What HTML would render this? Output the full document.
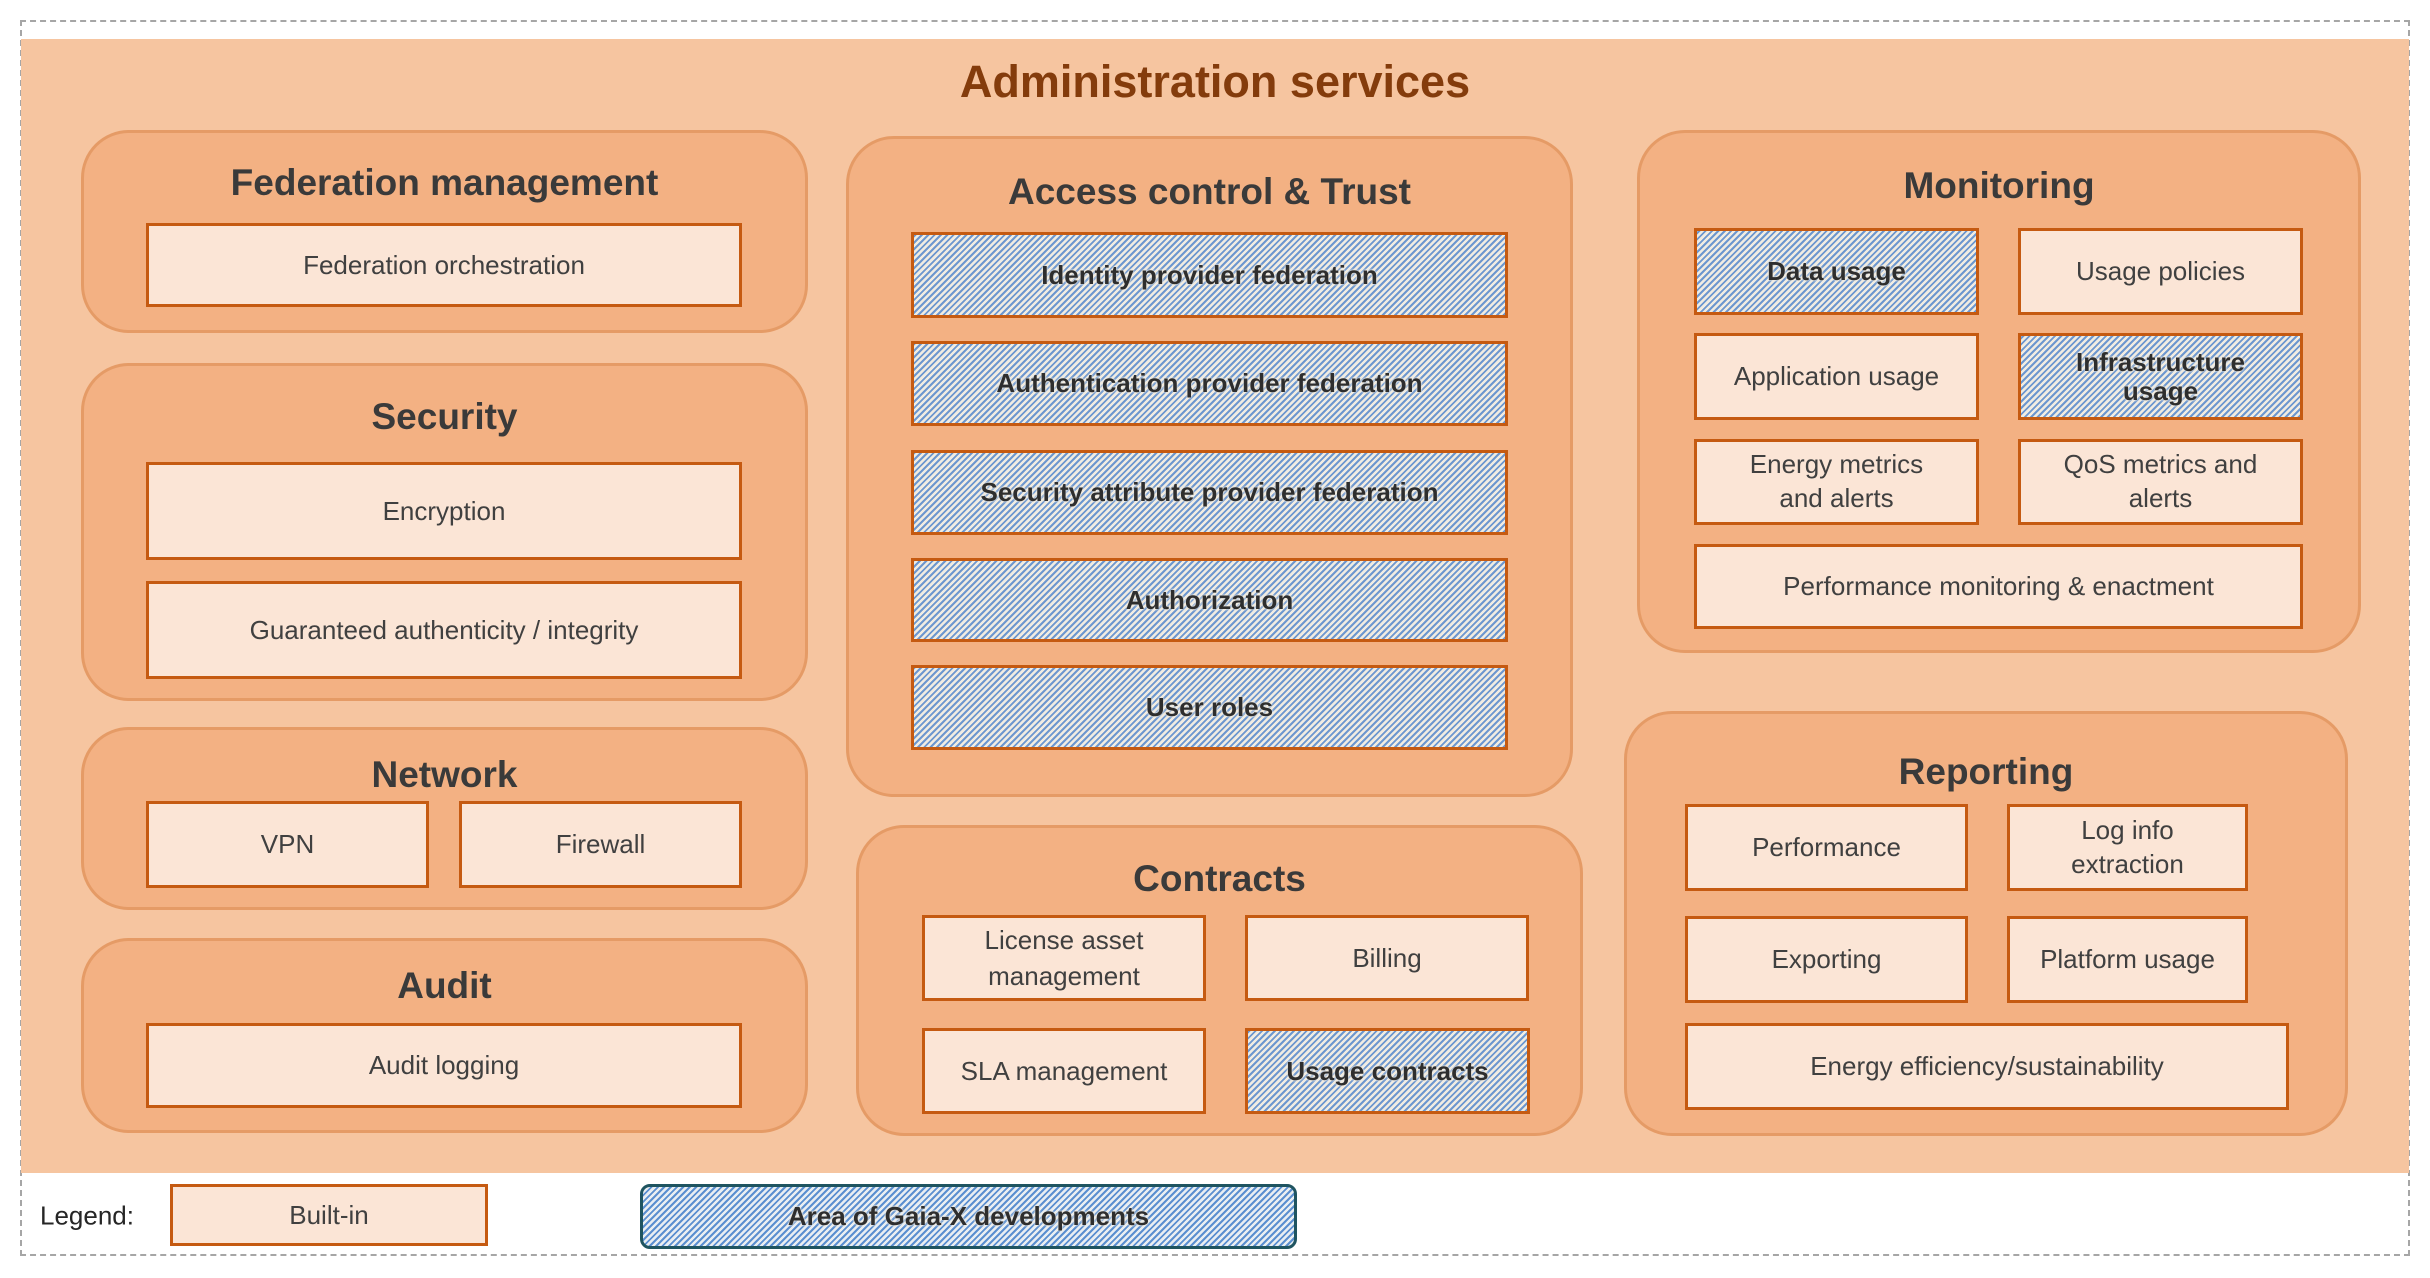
<!DOCTYPE html>
<html><head><meta charset="utf-8"><style>
*{margin:0;padding:0;box-sizing:border-box}
body{width:2430px;height:1278px;background:#fff;position:relative;overflow:hidden;font-family:"Liberation Sans",Arial,sans-serif;color:#404040}
.a{position:absolute}
.outer{left:20px;top:20px;width:2390px;height:1236px;border:2px dashed #a6a6a6}
.bg{left:21px;top:39px;width:2388px;height:1134px;background:#f6c5a0}
.g{position:absolute;background:#f3b183;border:3px solid #e59b66;border-radius:48px}
.t{position:absolute;left:0;right:0;text-align:center;font-weight:bold;font-size:37px;color:#3a3a3a;transform:translateY(-50%)}
.b{position:absolute;background:#fbe5d6;border:3px solid #c55a11;display:flex;align-items:center;justify-content:center;text-align:center;font-size:26px;line-height:1.4;color:#404040}
.h{background:repeating-linear-gradient(-45deg,#6d97cf 0px,#6d97cf 2px,#f1ece2 2px,#f1ece2 4.5px);color:#2e2e2e;font-weight:bold;text-shadow:0 0 3px #f1ece2,0 0 2px #f1ece2}
</style></head><body>
<div class="a outer"></div>
<div class="a bg"></div>
<div class="a" style="left:0;right:0;top:82px;transform:translateY(-50%);text-align:center;font-weight:bold;font-size:45px;color:#843c0c">Administration services</div>

<div class="g" style="left:81px;top:130px;width:727px;height:203px"></div>
<div class="t" style="left:81px;width:727px;top:183px">Federation management</div>
<div class="b" style="left:146px;top:223px;width:596px;height:84px">Federation orchestration</div>

<div class="g" style="left:81px;top:363px;width:727px;height:338px"></div>
<div class="t" style="left:81px;width:727px;top:417px">Security</div>
<div class="b" style="left:146px;top:462px;width:596px;height:98px">Encryption</div>
<div class="b" style="left:146px;top:581px;width:596px;height:98px">Guaranteed authenticity / integrity</div>

<div class="g" style="left:81px;top:727px;width:727px;height:183px"></div>
<div class="t" style="left:81px;width:727px;top:775px">Network</div>
<div class="b" style="left:146px;top:801px;width:283px;height:87px">VPN</div>
<div class="b" style="left:459px;top:801px;width:283px;height:87px">Firewall</div>

<div class="g" style="left:81px;top:938px;width:727px;height:195px"></div>
<div class="t" style="left:81px;width:727px;top:986px">Audit</div>
<div class="b" style="left:146px;top:1023px;width:596px;height:85px">Audit logging</div>

<div class="g" style="left:846px;top:136px;width:727px;height:661px"></div>
<div class="t" style="left:846px;width:727px;top:192px">Access control &amp; Trust</div>
<div class="b h" style="left:911px;top:232px;width:597px;height:86px">Identity provider federation</div>
<div class="b h" style="left:911px;top:341px;width:597px;height:85px">Authentication provider federation</div>
<div class="b h" style="left:911px;top:450px;width:597px;height:85px">Security attribute provider federation</div>
<div class="b h" style="left:911px;top:558px;width:597px;height:84px">Authorization</div>
<div class="b h" style="left:911px;top:665px;width:597px;height:85px">User roles</div>

<div class="g" style="left:856px;top:825px;width:727px;height:311px"></div>
<div class="t" style="left:856px;width:727px;top:879px">Contracts</div>
<div class="b" style="left:922px;top:915px;width:284px;height:86px">License asset<br>management</div>
<div class="b" style="left:1245px;top:915px;width:284px;height:86px">Billing</div>
<div class="b" style="left:922px;top:1028px;width:284px;height:86px">SLA management</div>
<div class="b h" style="left:1245px;top:1028px;width:285px;height:86px">Usage contracts</div>

<div class="g" style="left:1637px;top:130px;width:724px;height:523px"></div>
<div class="t" style="left:1637px;width:724px;top:186px">Monitoring</div>
<div class="b h" style="left:1694px;top:228px;width:285px;height:87px">Data usage</div>
<div class="b" style="left:2018px;top:228px;width:285px;height:87px">Usage policies</div>
<div class="b" style="left:1694px;top:333px;width:285px;height:87px">Application usage</div>
<div class="b h" style="left:2018px;top:333px;width:285px;height:87px;line-height:1.1">Infrastructure<br>usage</div>
<div class="b" style="left:1694px;top:439px;width:285px;height:86px;line-height:1.3">Energy metrics<br>and alerts</div>
<div class="b" style="left:2018px;top:439px;width:285px;height:86px;line-height:1.3">QoS metrics and<br>alerts</div>
<div class="b" style="left:1694px;top:544px;width:609px;height:85px">Performance monitoring &amp; enactment</div>

<div class="g" style="left:1624px;top:711px;width:724px;height:425px"></div>
<div class="t" style="left:1624px;width:724px;top:772px">Reporting</div>
<div class="b" style="left:1685px;top:804px;width:283px;height:87px">Performance</div>
<div class="b" style="left:2007px;top:804px;width:241px;height:87px;line-height:1.3">Log info<br>extraction</div>
<div class="b" style="left:1685px;top:916px;width:283px;height:87px">Exporting</div>
<div class="b" style="left:2007px;top:916px;width:241px;height:87px">Platform usage</div>
<div class="b" style="left:1685px;top:1023px;width:604px;height:87px">Energy efficiency/sustainability</div>

<div class="a" style="left:40px;top:1216px;transform:translateY(-50%);font-size:26px;color:#262626">Legend:</div>
<div class="b" style="left:170px;top:1184px;width:318px;height:62px">Built-in</div>
<div class="b h" style="left:640px;top:1184px;width:657px;height:65px;border-color:#1f5460;border-radius:10px;background:repeating-linear-gradient(-45deg,#5b8fd0 0px,#5b8fd0 2px,#e9eef2 2px,#e9eef2 4.5px)">Area of Gaia-X developments</div>
</body></html>
